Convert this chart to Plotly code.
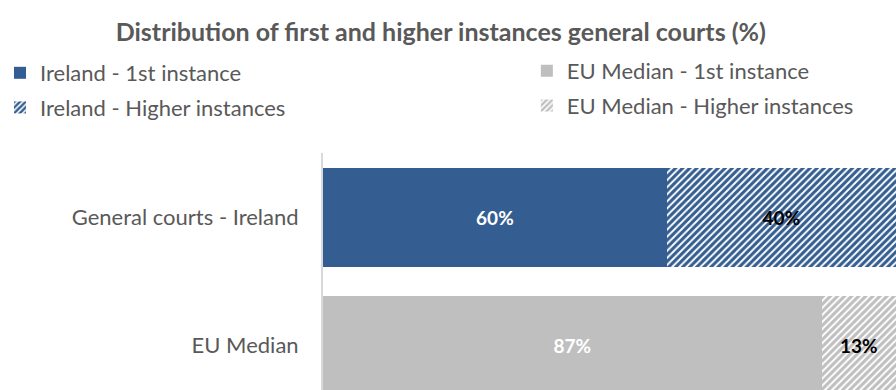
import plotly.graph_objects as go

categories = ["EU Median", "General courts - Ireland"]
first_instance = [87, 60]
higher_instances = [13, 40]
title = "Distribution of first and higher instances general courts (%)"

BLUE = "#345E91"
GRAY = "#BFBFBF"
TXT = "#595959"
FONT = "Lato, Calibri, Carlito, sans-serif"

fig = go.Figure()

def add(name, x, ycat, color, pattern, txtcolor, legend, group):
    marker = dict(color=color if not pattern else "white", line=dict(width=0))
    if pattern:
        marker["pattern"] = dict(shape="/", fgcolor=color, bgcolor="white", size=5,
                                 solidity=0.62, fgopacity=1)
    fig.add_trace(go.Bar(
        name=name, x=[x], y=[ycat], orientation="h", marker=marker,
        text=[f"{x}%"], textposition="inside", insidetextanchor="middle", textangle=0,
        textfont=dict(color=txtcolor, size=19, family=FONT, weight="bold"),
        constraintext="none", legend=legend, legendgroup=group, hoverinfo="skip",
    ))

add("Ireland - 1st instance", first_instance[1], categories[1], BLUE, False, "white", "legend", "a")
add("Ireland - Higher instances", higher_instances[1], categories[1], BLUE, True, "black", "legend", "b")
add("EU Median - 1st instance", first_instance[0], categories[0], GRAY, False, "white", "legend2", "c")
add("EU Median - Higher instances", higher_instances[0], categories[0], GRAY, True, "black", "legend2", "d")

leg_common = dict(
    xref="container", yref="container", xanchor="left", yanchor="top",
    orientation="v", font=dict(size=22, color=TXT, family=FONT),
    bgcolor="rgba(0,0,0,0)", traceorder="grouped", itemwidth=30,
    tracegroupgap=3,
)

fig.update_layout(
    width=896, height=390,
    barmode="stack", bargap=0.227,
    plot_bgcolor="white", paper_bgcolor="white",
    margin=dict(l=323, r=0, t=153, b=0, autoexpand=False),
    showlegend=True,
    title=dict(text=title, x=0.492, xanchor="center", y=1 - 32 / 390, yanchor="middle",
               font=dict(size=25, color=TXT, family=FONT, weight="bold")),
    legend=dict(x=0.0, y=1 - 52 / 390, **leg_common),
    legend2=dict(x=0.588, y=1 - 50 / 390, **leg_common),
    xaxis=dict(range=[0, 100], showgrid=False, zeroline=False, showticklabels=False,
               showline=False, automargin=False),
    yaxis=dict(categoryorder="array", categoryarray=categories, range=[-0.348, 1.504],
               showgrid=False, zeroline=False, showline=True, linecolor="#D9D9D9", linewidth=2,
               ticks="", ticklabelstandoff=18, automargin=False,
               tickfont=dict(size=22, color=TXT, family=FONT)),
    uniformtext=dict(mode=False),
)

fig.write_html(
    "out.html",
    config={"displayModeBar": False},
    post_script="document.body.style.margin='0';document.body.style.overflow='hidden';",
)
